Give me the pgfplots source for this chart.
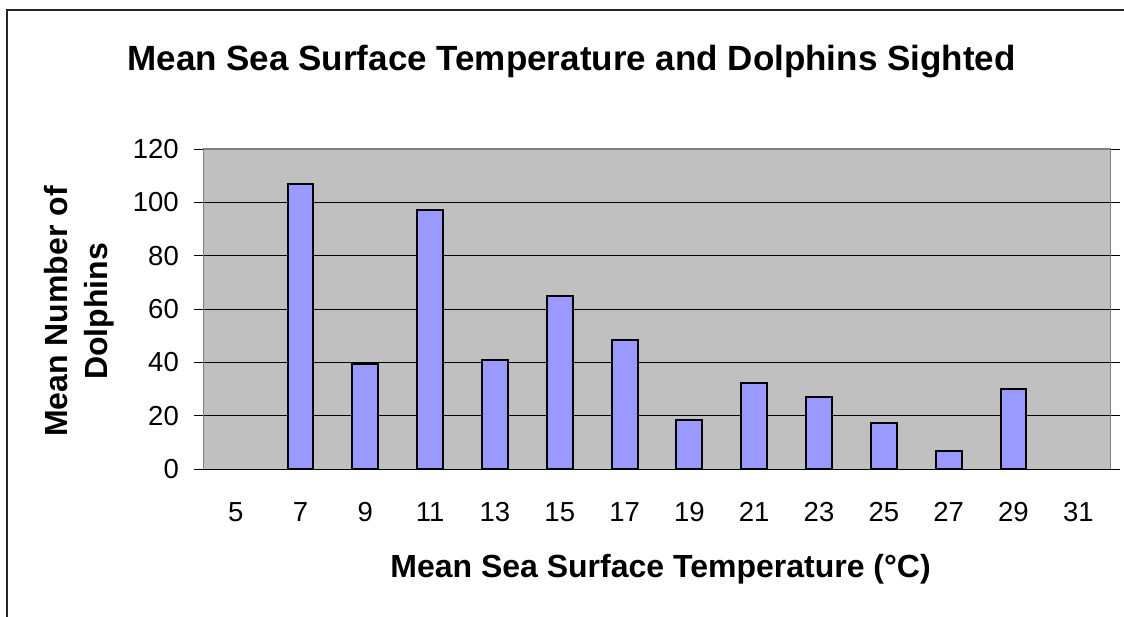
\documentclass[border=0pt]{standalone}
\usepackage{pgfplots}
\pgfplotsset{compat=1.18}
\usepackage{fontspec}
\setmainfont{Liberation Sans}
\definecolor{plotbg}{HTML}{C0C0C0}
\definecolor{barfill}{HTML}{9999FF}
\definecolor{framegray}{HTML}{808080}
\newcommand{\tickfont}{\fontsize{27.5}{32}\selectfont}
\begin{document}
\begin{tikzpicture}[x=1pt,y=1pt]
\useasboundingbox (0,0) rectangle (1124,616);
\draw[line width=1.4pt, black!85] (7,-5) -- (7,606) -- (1135,606);
\begin{axis}[
  at={(203.3pt,146.7pt)}, anchor=south west,
  scale only axis, width=907.4pt, height=320.3pt,
  xmin=-0.5, xmax=13.5, ymin=0, ymax=120,
  ytick={0,20,...,120},
  xtick={0,...,13},
  xticklabels={5,7,9,11,13,15,17,19,21,23,25,27,29,31},
  yticklabels={0,20,40,60,80,100,120},
  minor xtick={-0.5,0.5,...,13.5},
  xtick style={draw=none},
  minor x tick style={black, line width=0.9pt},
  ytick style={black, line width=0.9pt},
  tick align=outside,
  major tick length=9pt, minor tick length=9pt,
  ymajorgrids, grid style={black, line width=0.9pt},
  axis background/.style={fill=plotbg},
  axis line style={draw=none},
  every tick label/.append style={font=\tickfont, inner sep=0pt},
  xticklabel style={anchor=base, yshift=-43.4pt},
  yticklabel style={anchor=east, xshift=-15.3pt},
  title={Mean Sea Surface Temperature and Dolphins Sighted},
  title style={font=\fontsize{35}{42}\selectfont\bfseries, at={(axis description cs:0.4058,1.225)}, anchor=base, inner sep=0pt},
  xlabel={Mean Sea Surface Temperature (°C)},
  xlabel style={font=\fontsize{32}{38}\selectfont\bfseries, at={(axis description cs:0.5039,-0.3384)}, anchor=base, inner sep=0pt},
  ylabel={Mean Number of\\Dolphins},
  ylabel style={font=\fontsize{32}{40}\selectfont\bfseries, align=center, at={(axis description cs:-0.137,0.4927)}, anchor=center, inner sep=0pt},
  clip=false,
]
\addplot[ybar, bar width=0.4, fill=barfill, draw=black, line width=2pt] coordinates {
  (1,107) (2,39.5) (3,97.3) (4,41) (5,65) (6,48.3) (7,18.5) (8,32.4) (9,27.2) (10,17.5) (11,7) (12,30)
};
\draw[framegray, line width=1.5pt] (rel axis cs:0,0) -- (rel axis cs:0,1) -- (rel axis cs:1,1) -- (rel axis cs:1,0);
\draw[black, line width=1.2pt] (rel axis cs:0,0) -- (rel axis cs:1,0);
\end{axis}
\end{tikzpicture}
\end{document}
